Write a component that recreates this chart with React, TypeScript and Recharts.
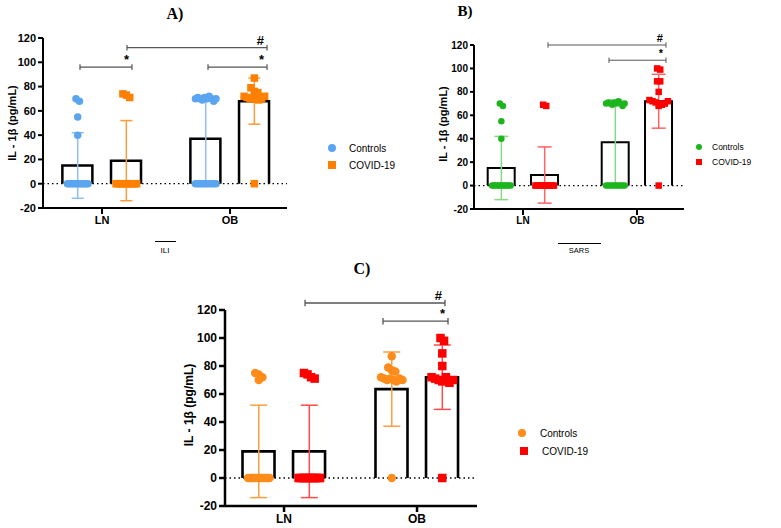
import React from 'react';
import { ComposedChart, Bar, Scatter, ErrorBar, XAxis, YAxis, ReferenceLine } from 'recharts';

// ---------- shared ----------
const categories = ['LN', 'OB'];
const yTicks = [-20, 0, 20, 40, 60, 80, 100, 120];
const seriesNames = ['Controls', 'COVID-19'];
const yLabel = 'IL - 1\u03B2 (pg/mL)';

// ---------- Panel A (ILI) ----------
const aControlsMean = [15, 37];
const aControlsSD = [27, 35];
const aCovidMean = [19, 68];
const aCovidSD = [33, 19];
const aControlsLN = [70, 68, 55, 40, 0, 0, 0, 0, 0, 0, 0, 0, 0, 0, 0, 0];
const aControlsOB = [70, 71, 70, 69, 71, 70, 72, 70, 68, 70, 0, 0, 0, 0, 0, 0, 0, 0, 0, 0];
const aCovidLN = [74, 73, 71, 0, 0, 0, 0, 0, 0, 0, 0, 0, 0];
const aCovidOB = [87, 79, 76, 75, 72, 71, 70, 70, 71, 69, 70, 72, 0];

// ---------- Panel B (SARS) ----------
const bControlsMean = [15, 37];
const bControlsSD = [27, 36];
const bCovidMean = [9, 72];
const bCovidSD = [24, 23];
const bControlsLN = [70, 68, 55, 40, 0, 0, 0, 0, 0, 0, 0, 0, 0, 0, 0, 0];
const bControlsOB = [70, 71, 70, 69, 71, 70, 72, 70, 68, 70, 0, 0, 0, 0, 0, 0, 0, 0, 0, 0];
const bCovidLN = [69, 68, 0, 0, 0, 0, 0, 0, 0, 0, 0, 0, 0, 0];
const bCovidOB = [100, 99, 89, 89, 80, 73, 72, 71, 70, 69, 70, 72, 68, 0];

// ---------- Panel C ----------
const cControlsMean = [19, 63.5];
const cControlsSD = [33, 26.5];
const cCovidMean = [19, 72];
const cCovidSD = [33, 23];
const cControlsLN = [75, 74, 72, 70, 0, 0, 0, 0, 0, 0, 0, 0, 0, 0, 0, 0];
const cControlsOB = [87, 79, 77, 76, 72, 71, 70, 71, 70, 69, 71, 70, 0];
const cCovidLN = [75, 74, 72, 71, 0, 0, 0, 0, 0, 0, 0, 0, 0, 0, 0, 0];
const cCovidOB = [100, 98, 89, 80, 72, 71, 70, 69, 72, 68, 70, 0];

// significance brackets: [from, to] in axis units, level, symbol
const aBrackets = [
  { from: -0.172, to: 0.234, level: 96, mark: '*' },
  { from: 0.195, to: 1.289, level: 112, mark: '#' },
  { from: 0.828, to: 1.289, level: 96, mark: '*' },
];
const bBrackets = [
  { from: 0.219, to: 1.254, level: 120, mark: '#' },
  { from: 0.754, to: 1.254, level: 107, mark: '*' },
];
const cBrackets = [
  { from: 0.158, to: 1.21, level: 125, mark: '#' },
  { from: 0.744, to: 1.233, level: 112, mark: '*' },
];

const FONT = "Arial, 'Liberation Sans', sans-serif";
const OFF = 0.19;

function spread(values: number[], center: number, halfW: number) {
  const clusters: number[][] = [];
  values.forEach((v, i) => {
    const c = clusters.find((cl) => Math.abs(values[cl[0]] - v) <= 4);
    if (c) c.push(i);
    else clusters.push([i]);
  });
  const out: { x: number; y: number }[] = [];
  clusters.forEach((cl) => {
    const k = cl.length;
    const w = k === 1 ? 0 : halfW * Math.min(1, (k - 1) / 6);
    cl.forEach((idx, j) => {
      const t = k === 1 ? 0 : (j / (k - 1)) * 2 - 1;
      out.push({ x: center + t * w, y: values[idx] });
    });
  });
  return out;
}

type PanelCfg = {
  left: number; top: number; width: number; height: number;
  margin: { top: number; right: number; bottom: number; left: number };
  yWidth: number; xHeight: number; domain: [number, number];
  ctrlMean: number[]; ctrlSD: number[]; covidMean: number[]; covidSD: number[];
  ctrlPts: number[][]; covidPts: number[][];
  ctrlColor: string; covidColor: string; ctrlErr: string; covidErr: string;
  barW: number; barStroke: number; axisStroke: number; fontSize: number;
  marker: number; capW: number; brackets: { from: number; to: number; level: number; mark: string }[];
  markSize: number; tickSize: number; bracketStroke: number;
};

function Panel({ c }: { c: PanelCfg }) {
  const plotW = c.width - c.margin.left - c.margin.right - c.yWidth;
  const pxPerUnit = plotW / (c.domain[1] - c.domain[0]);
  const halfW = (c.barW / 2 - c.marker / 2 - 1) / pxPerUnit;

  const barData: { x: number; y: number }[] = [];
  categories.forEach((_, i) => {
    barData.push({ x: i - OFF, y: c.ctrlMean[i] });
    barData.push({ x: i + OFF, y: c.covidMean[i] });
  });
  const ctrlErrData = categories.map((_, i) => ({ x: i - OFF, y: c.ctrlMean[i], sd: c.ctrlSD[i] }));
  const covidErrData = categories.map((_, i) => ({ x: i + OFF, y: c.covidMean[i], sd: c.covidSD[i] }));
  const ctrlScatter = categories.flatMap((_, i) => spread(c.ctrlPts[i], i - OFF, halfW));
  const covidScatter = categories.flatMap((_, i) => spread(c.covidPts[i], i + OFF, halfW));

  const r = c.marker / 2;
  const circle = (p: any) => <circle cx={p.cx} cy={p.cy} r={r} fill={c.ctrlColor} />;
  const square = (p: any) => (
    <rect x={p.cx - r} y={p.cy - r} width={c.marker} height={c.marker} fill={c.covidColor} />
  );
  const barShape = (p: any) => {
    const { x, y, width, height } = p;
    return (
      <path
        d={`M${x},${y + height} L${x},${y} L${x + width},${y} L${x + width},${y + height}`}
        fill="#fff"
        stroke="#000"
        strokeWidth={c.barStroke}
      />
    );
  };
  const capU = 2.3;
  const bStroke = { stroke: '#555', strokeWidth: c.bracketStroke };
  const tickStyle = { fill: '#000', fontSize: c.fontSize, fontWeight: 'bold', fontFamily: FONT };

  return (
    <div style={{ position: 'absolute', left: c.left, top: c.top }}>
      <ComposedChart width={c.width} height={c.height} data={barData} margin={c.margin}>
        <XAxis
          xAxisId="main"
          type="number"
          dataKey="x"
          domain={c.domain}
          allowDataOverflow
          ticks={[0, 1]}
          tickFormatter={(v: number) => categories[v]}
          height={c.xHeight}
          axisLine={{ stroke: '#000', strokeWidth: c.axisStroke }}
          tickLine={{ stroke: '#000', strokeWidth: c.axisStroke }}
          tickSize={6}
          tickMargin={2}
          tick={tickStyle}
        />
        <XAxis xAxisId="pts" type="number" dataKey="x" domain={c.domain} allowDataOverflow hide />
        <YAxis
          type="number"
          dataKey="y"
          domain={[-20, 120]}
          allowDataOverflow
          ticks={yTicks}
          interval={0}
          width={c.yWidth}
          axisLine={{ stroke: '#000', strokeWidth: c.axisStroke }}
          tickLine={{ stroke: '#000', strokeWidth: c.axisStroke }}
          tickSize={c.tickSize}
          tickMargin={2}
          tick={tickStyle}
        />
        <ReferenceLine xAxisId="main" y={0} stroke="#000" strokeWidth={1.3} strokeDasharray="1.5 3" />
        <Bar xAxisId="main" dataKey="y" barSize={c.barW} shape={barShape} isAnimationActive={false} />
        <Scatter xAxisId="pts" data={ctrlScatter} dataKey="y" shape={circle} isAnimationActive={false} />
        <Scatter xAxisId="pts" data={covidScatter} dataKey="y" shape={square} isAnimationActive={false} />
        <Scatter xAxisId="pts" data={ctrlErrData} dataKey="y" shape={() => <g />} isAnimationActive={false}>
          <ErrorBar dataKey="sd" direction="y" width={c.capW} stroke={c.ctrlErr} strokeWidth={1.5} isAnimationActive={false} />
        </Scatter>
        <Scatter xAxisId="pts" data={covidErrData} dataKey="y" shape={() => <g />} isAnimationActive={false}>
          <ErrorBar dataKey="sd" direction="y" width={c.capW} stroke={c.covidErr} strokeWidth={1.5} isAnimationActive={false} />
        </Scatter>
        {c.brackets.map((b, i) => (
          <ReferenceLine
            key={'b' + i}
            xAxisId="pts"
            segment={[{ x: b.from, y: b.level }, { x: b.to, y: b.level }]}
            ifOverflow="visible"
            {...bStroke}
            label={{
              value: b.mark,
              position: 'insideBottomRight',
              offset: 3,
              fill: '#000',
              fontSize: c.markSize,
              fontWeight: 'bold',
              fontFamily: FONT,
            }}
          />
        ))}
        {c.brackets.map((b, i) => (
          <ReferenceLine
            key={'l' + i}
            xAxisId="pts"
            segment={[{ x: b.from, y: b.level - capU }, { x: b.from, y: b.level + capU }]}
            ifOverflow="visible"
            {...bStroke}
          />
        ))}
        {c.brackets.map((b, i) => (
          <ReferenceLine
            key={'r' + i}
            xAxisId="pts"
            segment={[{ x: b.to, y: b.level - capU }, { x: b.to, y: b.level + capU }]}
            ifOverflow="visible"
            {...bStroke}
          />
        ))}
      </ComposedChart>
    </div>
  );
}

const panelA: PanelCfg = {
  left: 0, top: 0, width: 300, height: 245,
  margin: { top: 38, right: 13, bottom: 7, left: 0 },
  yWidth: 43, xHeight: 30, domain: [-0.461, 1.445],
  ctrlMean: aControlsMean, ctrlSD: aControlsSD, covidMean: aCovidMean, covidSD: aCovidSD,
  ctrlPts: [aControlsLN, aControlsOB], covidPts: [aCovidLN, aCovidOB],
  ctrlColor: '#5AA5F0', covidColor: '#FF8000', ctrlErr: '#8DBEF2', covidErr: '#FF9A3A',
  barW: 30, barStroke: 2.5, axisStroke: 2, fontSize: 11, marker: 7.5, capW: 6,
  brackets: aBrackets, markSize: 13, tickSize: 5, bracketStroke: 1.2,
};
const panelB: PanelCfg = {
  left: 420, top: 0, width: 270, height: 245,
  margin: { top: 45, right: 6, bottom: 6, left: 0 },
  yWidth: 54, xHeight: 30, domain: [-0.43, 1.412],
  ctrlMean: bControlsMean, ctrlSD: bControlsSD, covidMean: bCovidMean, covidSD: bCovidSD,
  ctrlPts: [bControlsLN, bControlsOB], covidPts: [bCovidLN, bCovidOB],
  ctrlColor: '#1DB51D', covidColor: '#FF0000', ctrlErr: '#86D886', covidErr: '#FF6464',
  barW: 27, barStroke: 2, axisStroke: 2, fontSize: 10, marker: 6.5, capW: 7,
  brackets: bBrackets, markSize: 11, tickSize: 4, bracketStroke: 1,
};
const panelC: PanelCfg = {
  left: 180, top: 270, width: 300, height: 258,
  margin: { top: 40, right: 3, bottom: 0, left: 0 },
  yWidth: 45, xHeight: 22, domain: [-0.444, 1.451],
  ctrlMean: cControlsMean, ctrlSD: cControlsSD, covidMean: cCovidMean, covidSD: cCovidSD,
  ctrlPts: [cControlsLN, cControlsOB], covidPts: [cCovidLN, cCovidOB],
  ctrlColor: '#FF8C1A', covidColor: '#FF0000', ctrlErr: '#FF9E40', covidErr: '#FF4A4A',
  barW: 32, barStroke: 2.6, axisStroke: 2.5, fontSize: 12, marker: 8.5, capW: 8.5,
  brackets: cBrackets, markSize: 13, tickSize: 6, bracketStroke: 1.3,
};

function Overlay() {
  const serif = "'Times New Roman', 'Liberation Serif', serif";
  return (
    <svg width={781} height={528} style={{ position: 'absolute', left: 0, top: 0, pointerEvents: 'none' }}>
      <text x={175} y={19} textAnchor="middle" fontFamily={serif} fontWeight="bold" fontSize={16}>A)</text>
      <text x={465} y={16} textAnchor="middle" fontFamily={serif} fontWeight="bold" fontSize={15}>B)</text>
      <text x={362} y={274} textAnchor="middle" fontFamily={serif} fontWeight="bold" fontSize={16}>C)</text>

      <text transform="translate(16,123) rotate(-90)" textAnchor="middle" fontFamily={FONT} fontWeight="bold" fontSize={11}>{yLabel}</text>
      <text transform="translate(447,124) rotate(-90)" textAnchor="middle" fontFamily={FONT} fontWeight="bold" fontSize={11}>{yLabel}</text>
      <text transform="translate(193,405) rotate(-90)" textAnchor="middle" fontFamily={FONT} fontWeight="bold" fontSize={12}>{yLabel}</text>

      <line x1={155} x2={176} y1={241.5} y2={241.5} stroke="#000" strokeWidth={1} />
      <text x={165} y={253} textAnchor="middle" fontFamily={FONT} fontSize={8}>ILI</text>
      <line x1={558} x2={601} y1={243.5} y2={243.5} stroke="#000" strokeWidth={1} />
      <text x={579} y={253} textAnchor="middle" fontFamily={FONT} fontSize={7.5}>SARS</text>

      <circle cx={332} cy={148} r={4} fill="#5AA5F0" />
      <text x={349} y={151.5} fontFamily={FONT} fontSize={10}>{seriesNames[0]}</text>
      <rect x={328} y={161} width={8} height={8} fill="#FF8000" />
      <text x={349} y={168.5} fontFamily={FONT} fontSize={10}>{seriesNames[1]}</text>

      <circle cx={699} cy={147} r={3} fill="#1DB51D" />
      <text x={712} y={150} fontFamily={FONT} fontSize={8.5}>{seriesNames[0]}</text>
      <rect x={696} y={159} width={6} height={6} fill="#FF0000" />
      <text x={712} y={165} fontFamily={FONT} fontSize={8.5}>{seriesNames[1]}</text>

      <circle cx={522} cy={433} r={4} fill="#FF8C1A" />
      <text x={540} y={436.5} fontFamily={FONT} fontSize={10}>{seriesNames[0]}</text>
      <rect x={520} y={447} width={8} height={8} fill="#FF0000" />
      <text x={542} y={454.5} fontFamily={FONT} fontSize={10}>{seriesNames[1]}</text>
    </svg>
  );
}

export default function App() {
  return (
    <div style={{ position: 'absolute', left: 0, top: 0, width: 781, height: 528, background: '#fff' }}>
      <Panel c={panelA} />
      <Panel c={panelB} />
      <Panel c={panelC} />
      <Overlay />
    </div>
  );
}
